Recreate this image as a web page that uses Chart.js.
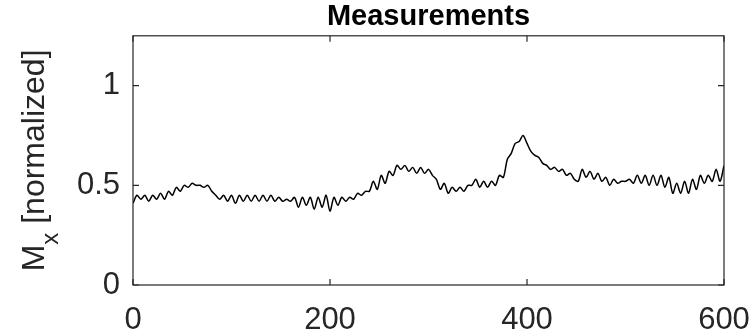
<!DOCTYPE html>
<html>
<head>
<meta charset="utf-8">
<script src="https://cdn.jsdelivr.net/npm/chart.js@4"></script>
<style>
  html, body { margin: 0; padding: 0; background: #fff; }
  #wrap { width: 755px; height: 335px; }
</style>
</head>
<body>
<div id="wrap"><canvas id="lineChart"></canvas></div>
<script>
// time samples
const xs = [
  0, 4, 8, 12, 16, 20, 24, 28, 32, 36, 40, 44, 48, 52, 56, 60, 64, 68, 72, 76,
  80, 84, 88, 92, 96, 100, 104, 108, 112, 116, 120, 124, 128, 132, 136, 140, 144, 148, 152, 156,
  160, 164, 168, 172, 176, 180, 184, 188, 192, 196, 200, 204, 208, 212, 216, 220, 224, 228, 232, 236,
  240, 244, 248, 252, 256, 260, 264, 268, 272, 276, 280, 284, 288, 292, 296, 300, 304, 308, 312, 316,
  320, 324, 328, 332, 336, 340, 344, 348, 352, 356, 360, 364, 368, 372, 376, 380, 384, 388, 392, 396,
  400, 404, 408, 412, 416, 420, 424, 428, 432, 436, 440, 444, 448, 452, 456, 460, 464, 468, 472, 476,
  480, 484, 488, 492, 496, 500, 504, 508, 512, 516, 520, 524, 528, 532, 536, 540, 544, 548, 552, 556,
  560, 564, 568, 572, 576, 580, 584, 588, 592, 596, 600
];
// measured Mx
const mx = [
  0.41, 0.45, 0.43, 0.45, 0.42, 0.45, 0.43, 0.46, 0.43, 0.47, 0.45, 0.49, 0.47, 0.50, 0.49, 0.51, 0.50, 0.50, 0.49, 0.50,
  0.47, 0.45, 0.43, 0.45, 0.42, 0.45, 0.41, 0.45, 0.42, 0.45, 0.42, 0.45, 0.42, 0.45, 0.42, 0.45, 0.42, 0.44, 0.42, 0.43,
  0.42, 0.44, 0.39, 0.44, 0.40, 0.44, 0.38, 0.44, 0.39, 0.45, 0.37, 0.44, 0.40, 0.44, 0.42, 0.44, 0.43, 0.46, 0.45, 0.47,
  0.47, 0.52, 0.48, 0.55, 0.51, 0.57, 0.55, 0.60, 0.58, 0.60, 0.57, 0.59, 0.56, 0.59, 0.56, 0.58, 0.55, 0.53, 0.48, 0.51,
  0.46, 0.49, 0.47, 0.49, 0.47, 0.50, 0.50, 0.53, 0.49, 0.52, 0.49, 0.52, 0.50, 0.55, 0.54, 0.63, 0.66, 0.71, 0.72, 0.75,
  0.71, 0.67, 0.65, 0.64, 0.61, 0.60, 0.58, 0.59, 0.57, 0.58, 0.55, 0.56, 0.53, 0.52, 0.58, 0.54, 0.57, 0.53, 0.56, 0.52,
  0.54, 0.50, 0.53, 0.51, 0.52, 0.52, 0.53, 0.51, 0.55, 0.51, 0.55, 0.50, 0.55, 0.50, 0.55, 0.49, 0.54, 0.46, 0.51, 0.46,
  0.52, 0.46, 0.53, 0.48, 0.55, 0.51, 0.55, 0.52, 0.58, 0.52, 0.60
];
const xTicks = [0, 200, 400, 600];
const yTicks = [0, 0.5, 1];

const axisColor = '#262626';
const fontFamily = '"Liberation Sans", Arial, Helvetica, sans-serif';

// MATLAB style box with inward ticks, plus the y label with subscript
const boxPlugin = {
    id: 'box',
    afterDraw(chart) {
        const ctx = chart.ctx;
        const a = chart.chartArea;
        const xs_ = chart.scales.x, ys_ = chart.scales.y;
        ctx.save();
        ctx.strokeStyle = axisColor;
        ctx.lineWidth = 1.2;
        ctx.strokeRect(a.left, a.top, a.right - a.left, a.bottom - a.top);
        ctx.beginPath();
        xTicks.forEach(v => {
            const px = xs_.getPixelForValue(v);
            ctx.moveTo(px, a.bottom); ctx.lineTo(px, a.bottom - 6);
            ctx.moveTo(px, a.top); ctx.lineTo(px, a.top + 6);
        });
        yTicks.forEach(v => {
            const py = ys_.getPixelForValue(v);
            ctx.moveTo(a.left, py); ctx.lineTo(a.left + 6, py);
            ctx.moveTo(a.right, py); ctx.lineTo(a.right - 6, py);
        });
        ctx.stroke();

        // y label
        const cy = (a.top + a.bottom) / 2;
        ctx.translate(44, cy);
        ctx.rotate(-Math.PI / 2);
        ctx.fillStyle = axisColor;
        ctx.textBaseline = 'alphabetic';
        const big = '32px ' + fontFamily, small = '24px ' + fontFamily;
        ctx.font = big;
        const wM = ctx.measureText('M').width;
        const wRest = ctx.measureText(' [normalized]').width;
        ctx.font = small;
        const wSub = ctx.measureText('x').width;
        let x0 = -(wM + wSub + wRest) / 2;
        ctx.font = big;
        ctx.fillText('M', x0, 0);
        ctx.font = small;
        ctx.fillText('x', x0 + wM, 14);
        ctx.font = big;
        ctx.fillText(' [normalized]', x0 + wM + wSub, 0);
        ctx.restore();
    }
};

new Chart(document.getElementById('lineChart'), {
    type: 'line',
    data: {
        datasets: [{
            data: xs.map((x, i) => ({ x: x, y: mx[i] })),
            borderColor: '#000000',
            borderWidth: 1.5,
            pointRadius: 0,
            tension: 0.3,
            fill: false
        }]
    },
    options: {
        responsive: true,
        maintainAspectRatio: false,
        animation: false,
        layout: { padding: { left: 0, right: 31, top: 0, bottom: 0 } },
        plugins: {
            legend: { display: false },
            tooltip: { enabled: false },
            title: {
                display: true,
                fullSize: false,
                text: 'Measurements',
                color: '#000000',
                font: { family: fontFamily, size: 29, weight: 'bold' },
                padding: { top: 0, bottom: 1 }
            }
        },
        scales: {
            x: {
                type: 'linear',
                min: 0,
                max: 600,
                afterBuildTicks: s => { s.ticks = xTicks.map(v => ({ value: v })); },
                afterFit: s => { s.height = 50; s.paddingLeft = 0; s.paddingRight = 0; },
                grid: { display: false, drawTicks: false },
                border: { display: false },
                ticks: {
                    color: axisColor,
                    padding: 17,
                    maxRotation: 0,
                    font: { family: fontFamily, size: 31 }
                }
            },
            y: {
                type: 'linear',
                min: 0,
                max: 1.25,
                afterBuildTicks: s => { s.ticks = yTicks.map(v => ({ value: v })); },
                afterFit: s => { s.width = 133; s.paddingTop = 0; s.paddingBottom = 0; },
                grid: { display: false, drawTicks: false },
                border: { display: false },
                ticks: {
                    color: axisColor,
                    padding: 13,
                    font: { family: fontFamily, size: 31 },
                    callback: v => String(v)
                }
            }
        }
    },
    plugins: [boxPlugin]
});
</script>
</body>
</html>
